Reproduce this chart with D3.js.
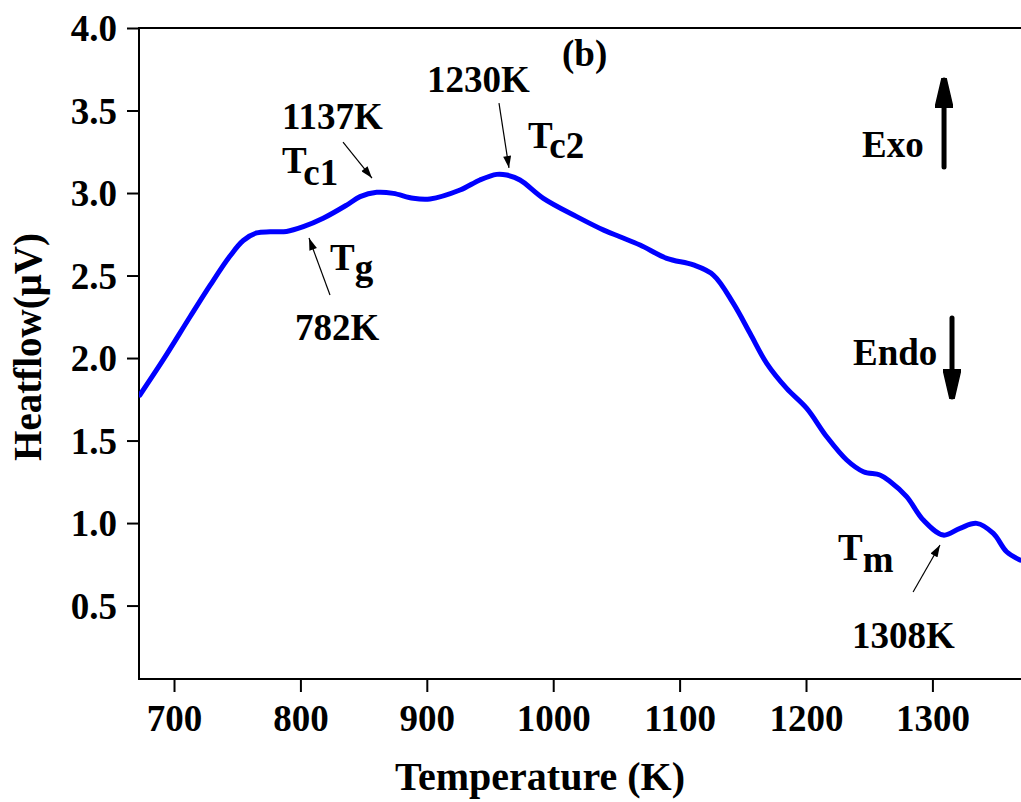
<!DOCTYPE html>
<html>
<head>
<meta charset="utf-8">
<script src="https://cdn.jsdelivr.net/npm/d3@7"></script>
<style>
  html, body { margin: 0; padding: 0; background: #fff; }
  svg text { font-family: "Liberation Serif", "Times New Roman", serif; font-weight: bold; fill: #000; }
</style>
</head>
<body>
<svg id="chart" width="1021" height="802"></svg>
<script>
// DTA heat-flow trace (temperature in K, heat flow in µV)
const temperature = [673, 691.5, 712.7, 728.5, 744.3, 754.8, 765.4, 776, 789, 802.3, 818, 836.6, 847.2,
  860.4, 873.5, 889.3, 902.5, 926.3, 942, 955.3, 963.2, 973.7, 992.2, 1018.6, 1040, 1052.8, 1068.7,
  1089.8, 1110.9, 1126.7, 1142.5, 1155.7, 1168.9, 1184.7, 1200.6, 1216.4, 1232.2, 1245.4, 1258.5,
  1266, 1279.6, 1292.8, 1308.6, 1321.8, 1335, 1348.2, 1358.7, 1369.3];
const heatflow = [1.776, 1.990, 2.250, 2.440, 2.618, 2.712, 2.758, 2.765, 2.767, 2.796, 2.847, 2.927, 2.978,
  3.004, 2.998, 2.968, 2.964, 3.018, 3.079, 3.113, 3.109, 3.079, 2.968, 2.857, 2.775, 2.735, 2.685,
  2.604, 2.564, 2.503, 2.331, 2.150, 1.968, 1.816, 1.695, 1.523, 1.382, 1.311, 1.291,
  1.255, 1.160, 1.018, 0.927, 0.968, 0.998, 0.937, 0.826, 0.776];
const xTicks = [700, 800, 900, 1000, 1100, 1200, 1300];
const yTicks = [0.5, 1.0, 1.5, 2.0, 2.5, 3.0, 3.5, 4.0];
const xTitle = "Temperature (K)";
const yTitle = "Heatflow(\u03BCV)";
const panelLabel = "(b)";

const svg = d3.select("#chart");
const plot = { left: 139, top: 28, right: 1024, bottom: 679 };

const x = d3.scaleLinear().domain([672.3, 672.3 + (plot.right - plot.left) / 1.264]).range([plot.left, plot.right]);
const y = d3.scaleLinear().domain([0.055, 4.0]).range([plot.bottom, plot.top]);

// arrowhead markers
const defs = svg.append("defs");
defs.append("marker").attr("id", "thinHead")
  .attr("viewBox", "0 0 12 8").attr("refX", 12).attr("refY", 4)
  .attr("markerUnits", "userSpaceOnUse").attr("markerWidth", 13).attr("markerHeight", 8)
  .attr("orient", "auto")
  .append("path").attr("d", "M0,0 L12,4 L0,8 Z").attr("fill", "#000");
defs.append("marker").attr("id", "boldHead")
  .attr("viewBox", "0 0 30 18").attr("refX", 28).attr("refY", 9)
  .attr("markerUnits", "userSpaceOnUse").attr("markerWidth", 30).attr("markerHeight", 18)
  .attr("orient", "auto")
  .append("path").attr("d", "M0,0 L30,7 L30,11 L0,18 Z").attr("fill", "#000")
  .attr("stroke", "#000").attr("stroke-linejoin", "round").attr("stroke-width", 1.5);

// frame: top, left and bottom edges (right edge lies beyond the canvas)
svg.append("path")
  .attr("d", `M${plot.right},${plot.top} L${plot.left},${plot.top} L${plot.left},${plot.bottom} L${plot.right},${plot.bottom}`)
  .attr("fill", "none").attr("stroke", "#000").attr("stroke-width", 2);

// axes
const xAxis = svg.append("g").attr("transform", `translate(0,${plot.bottom})`)
  .call(d3.axisBottom(x).tickValues(xTicks).tickFormat(d3.format("d")).tickSize(13).tickPadding(13));
const yAxis = svg.append("g").attr("transform", `translate(${plot.left},0)`)
  .call(d3.axisLeft(y).tickValues(yTicks).tickFormat(d3.format(".1f")).tickSize(12).tickPadding(10));
[xAxis, yAxis].forEach(g => {
  g.select(".domain").remove();
  g.selectAll(".tick line").attr("stroke", "#000").attr("stroke-width", 2);
  g.selectAll(".tick text").attr("font-size", 37)
    .attr("font-family", "'Liberation Serif', 'Times New Roman', serif").attr("font-weight", "bold").attr("fill", "#000");
});
xAxis.selectAll(".tick text").attr("dy", "0.71em");
yAxis.selectAll(".tick text").attr("dy", "0.34em");

// axis titles
svg.append("text").attr("x", 540).attr("y", 790).attr("text-anchor", "middle")
  .attr("font-size", 40).text(xTitle);
svg.append("text").attr("transform", "translate(41,347) rotate(-90)").attr("text-anchor", "middle")
  .attr("font-size", 39).text(yTitle);

// heat-flow curve
const clip = defs.append("clipPath").attr("id", "plotClip");
clip.append("rect").attr("x", plot.left).attr("y", plot.top)
  .attr("width", plot.right - plot.left).attr("height", plot.bottom - plot.top);
const line = d3.line().x(d => x(d[0])).y(d => y(d[1])).curve(d3.curveCatmullRom.alpha(0.5));
svg.append("path").datum(d3.zip(temperature, heatflow))
  .attr("clip-path", "url(#plotClip)")
  .attr("d", line).attr("fill", "none").attr("stroke", "#0000ff")
  .attr("stroke-width", 5).attr("stroke-linejoin", "round").attr("stroke-linecap", "round");

// text annotations, placed in data coordinates
const notes = [
  { t: 1007, v: 3.77, text: panelLabel },
  { t: 900.2, v: 3.612, text: "1230K" },
  { t: 785.4, v: 3.388, text: "1137K" },
  { t: 785.4, v: 3.121, text: "T", sub: "c1", shift: 12 },
  { t: 980, v: 3.273, text: "T", sub: "c2", shift: 10 },
  { t: 823.4, v: 2.533, text: "T", sub: "g", shift: 10 },
  { t: 795.7, v: 2.109, text: "782K" },
  { t: 1244.3, v: 3.218, text: "Exo" },
  { t: 1237.2, v: 1.958, text: "Endo" },
  { t: 1225.3, v: 0.776, text: "T", sub: "m", shift: 12 },
  { t: 1236.4, v: 0.242, text: "1308K" }
];
notes.forEach(n => {
  const el = svg.append("text").attr("x", x(n.t)).attr("y", y(n.v)).attr("font-size", 37).text(n.text);
  if (n.sub) el.append("tspan").attr("dy", n.shift).text(n.sub);
});

// thin pointer arrows to the transition temperatures
const pointers = [
  [[833.7, 3.309], [856.6, 3.091]],
  [[957.1, 3.545], [965.0, 3.152]],
  [[823.4, 2.382], [806.8, 2.727]],
  [[1284.7, 0.582], [1306.0, 0.867]]
];
pointers.forEach(([a, b]) => {
  svg.append("line").attr("x1", x(a[0])).attr("y1", y(a[1])).attr("x2", x(b[0])).attr("y2", y(b[1]))
    .attr("stroke", "#000").attr("stroke-width", 1.2).attr("marker-end", "url(#thinHead)");
});

// Exo / Endo direction arrows
const dirArrows = [
  [[1309.2, 3.158], [1309.2, 3.685]],
  [[1315.5, 2.242], [1315.5, 1.764]]
];
dirArrows.forEach(([a, b]) => {
  svg.append("line").attr("x1", x(a[0])).attr("y1", y(a[1])).attr("x2", x(b[0])).attr("y2", y(b[1]))
    .attr("stroke", "#000").attr("stroke-width", 5).attr("stroke-linecap", "round")
    .attr("marker-end", "url(#boldHead)");
});
</script>
</body>
</html>
